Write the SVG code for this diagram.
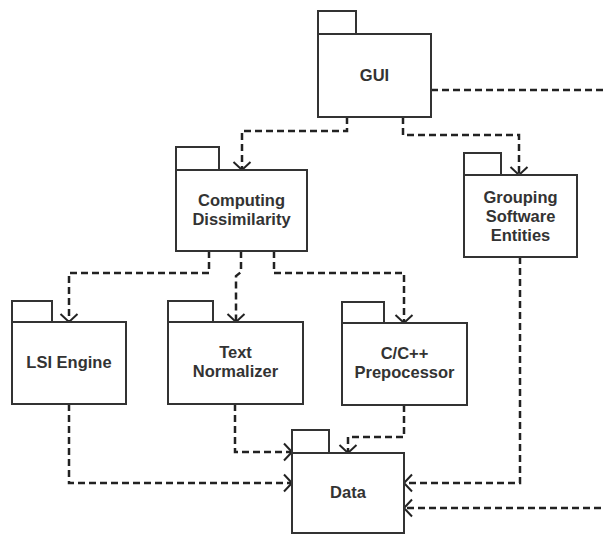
<svg xmlns="http://www.w3.org/2000/svg" width="605" height="535" viewBox="0 0 605 535">
<style>
.box{fill:#fff;stroke:#333;stroke-width:2}
.t{font-family:"Liberation Sans",Arial,sans-serif;font-weight:bold;font-size:16.5px;fill:#333;text-anchor:middle}
.c{fill:none;stroke:#222;stroke-width:2.5;stroke-dasharray:7 4;marker-end:url(#v)}
</style>
<defs>
<marker id="v" viewBox="-12 -12 14 24" refX="0" refY="0" markerWidth="14" markerHeight="24" markerUnits="userSpaceOnUse" orient="auto">
<path d="M-8,-8.5 L0,0 L-8,8.5" fill="none" stroke="#222" stroke-width="2" stroke-dasharray="none"/>
</marker>
</defs>
<rect width="605" height="535" fill="#fff"/>
<g id="connectors">
<path class="c" d="M347 117 V131 H242 V170"/>
<path class="c" d="M403 117 V135 H519 V175"/>
<path class="c" d="M431 90 H615 V508 H404"/>
<path class="c" d="M209 251 V273 H69 V322"/>
<path class="c" d="M241 251 V272 L236 276 V322"/>
<path class="c" d="M274 251 V273 H404 V323"/>
<path class="c" d="M69 404 V483 H292"/>
<path class="c" d="M235 404 V452 H292"/>
<path class="c" d="M404 405 V437 H348 V453"/>
<path class="c" d="M520 257 V483 H404"/>
</g>
<g id="gui">
<rect class="box" x="318" y="11" width="38" height="23"/>
<rect class="box" x="318" y="34" width="113" height="83"/>
<text class="t" x="374.5" y="81">GUI</text>
</g>
<g id="computing">
<rect class="box" x="176" y="147" width="43" height="23"/>
<rect class="box" x="176" y="170" width="131" height="81"/>
<text class="t" x="241.5" y="206">Computing</text>
<text class="t" x="241.5" y="225">Dissimilarity</text>
</g>
<g id="grouping">
<rect class="box" x="464" y="153" width="37" height="22"/>
<rect class="box" x="464" y="175" width="113" height="82"/>
<text class="t" x="520.5" y="203">Grouping</text>
<text class="t" x="520.5" y="222">Software</text>
<text class="t" x="520.5" y="241">Entities</text>
</g>
<g id="lsi">
<rect class="box" x="12" y="301" width="40" height="21"/>
<rect class="box" x="12" y="322" width="114" height="82"/>
<text class="t" x="69" y="368">LSI Engine</text>
</g>
<g id="textnorm">
<rect class="box" x="168" y="301" width="45" height="21"/>
<rect class="box" x="168" y="322" width="135" height="82"/>
<text class="t" x="235.5" y="358">Text</text>
<text class="t" x="235.5" y="377">Normalizer</text>
</g>
<g id="cpp">
<rect class="box" x="342" y="302" width="42" height="21"/>
<rect class="box" x="342" y="323" width="125" height="82"/>
<text class="t" x="404.5" y="359">C/C++</text>
<text class="t" x="404.5" y="378">Prepocessor</text>
</g>
<g id="data">
<rect class="box" x="292" y="430" width="37" height="23"/>
<rect class="box" x="292" y="453" width="112" height="80"/>
<text class="t" x="348" y="498">Data</text>
</g>
</svg>
